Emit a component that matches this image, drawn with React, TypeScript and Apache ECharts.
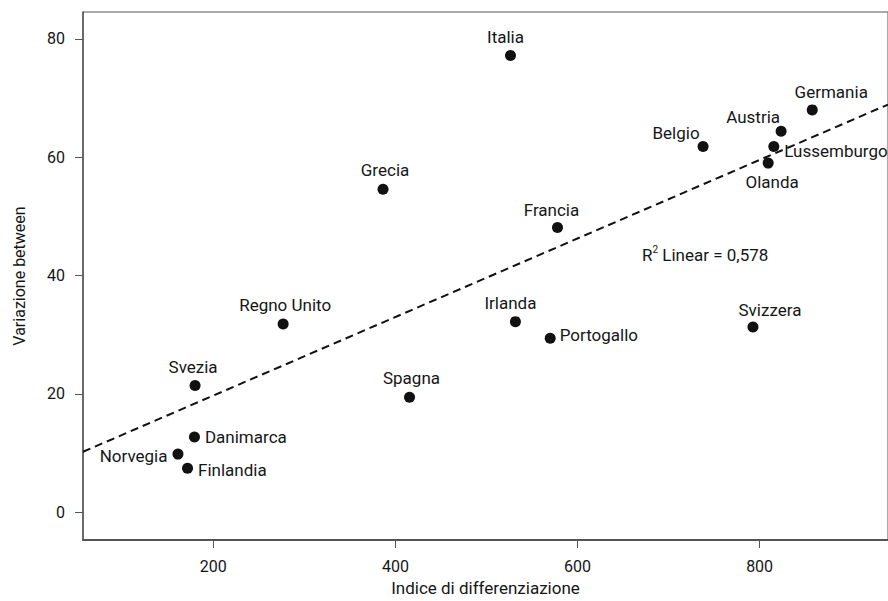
import React, { useEffect, useRef } from "react";
import * as echarts from "echarts";

const countries = [
  "Italia", "Grecia", "Francia", "Germania", "Austria", "Belgio", "Lussemburgo", "Olanda",
  "Regno Unito", "Svezia", "Danimarca", "Norvegia", "Finlandia", "Irlanda", "Portogallo", "Spagna", "Svizzera",
];
const indice = [526.4, 386.4, 578, 857.8, 823.6, 737.9, 815.6, 809.4, 276.7, 180, 179.3, 161.2, 171.7, 531.8, 570, 415.5, 792.7];
const variazione = [77.2, 54.6, 48.1, 68.0, 64.4, 61.8, 61.8, 59.0, 31.8, 21.4, 12.7, 9.8, 7.4, 32.2, 29.4, 19.4, 31.3];

const xTicks = [200, 400, 600, 800];
const yTicks = [0, 20, 40, 60, 80];
const xRange = [56.9, 941];
const yRange = [-4.72, 84.55];

// fit line
const fitIntercept = 6.42;
const fitSlope = 0.0664;
const r2Text = "0,578";

const labelPlacement: Record<string, { position: string; offset: number[] }> = {
  Italia: { position: "top", offset: [-5, 1] },
  Grecia: { position: "top", offset: [2, 0] },
  Francia: { position: "top", offset: [-6, 1] },
  Germania: { position: "top", offset: [19, 1] },
  Austria: { position: "top", offset: [-28, 5] },
  Belgio: { position: "top", offset: [-27, 5] },
  Lussemburgo: { position: "right", offset: [0, 4] },
  Olanda: { position: "bottom", offset: [4, 0] },
  "Regno Unito": { position: "top", offset: [2, 0] },
  Svezia: { position: "top", offset: [-2, 0] },
  Danimarca: { position: "right", offset: [0, 0] },
  Norvegia: { position: "left", offset: [0, 2] },
  Finlandia: { position: "right", offset: [0, 2] },
  Irlanda: { position: "top", offset: [-5, 0] },
  Portogallo: { position: "right", offset: [-1, -3] },
  Spagna: { position: "top", offset: [2, 0] },
  Svizzera: { position: "top", offset: [17, 2] },
};

const FONT = "Roboto";
const TEXT = "#161616";
const AXIS = "#555555";

export default function App() {
  const ref = useRef<HTMLDivElement>(null);
  useEffect(() => {
    if (!ref.current) return;
    const chart = echarts.init(ref.current, undefined, { renderer: "svg" });
    const points = countries.map((name, i) => {
      const p = labelPlacement[name];
      return {
        name,
        value: [indice[i], variazione[i]],
        label: { position: p.position, offset: p.offset },
      };
    });
    const fitData = [
      [xRange[0], fitIntercept + fitSlope * xRange[0]],
      [xRange[1], fitIntercept + fitSlope * xRange[1]],
    ];
    chart.setOption({
      animation: false,
      backgroundColor: "#ffffff",
      grid: {
        left: 83,
        top: 12,
        right: -6,
        bottom: 55,
        show: true,
        borderColor: AXIS,
        borderWidth: 1,
      },
      textStyle: { fontFamily: FONT },
      xAxis: {
        type: "value",
        min: xRange[0],
        max: xRange[1],
        name: "Indice di differenziazione",
        nameLocation: "middle",
        nameGap: 39,
        nameTextStyle: { fontFamily: FONT, fontSize: 17, color: TEXT },
        splitLine: { show: false },
        axisLine: { show: true, onZero: false, lineStyle: { color: AXIS, width: 2 } },
        axisTick: { show: true, length: 8, customValues: xTicks, lineStyle: { color: AXIS, width: 1 } },
        axisLabel: { customValues: xTicks, margin: 18, fontFamily: FONT, fontSize: 16, color: TEXT },
      },
      yAxis: {
        type: "value",
        min: yRange[0],
        max: yRange[1],
        name: "Variazione between",
        nameLocation: "middle",
        nameGap: 56,
        nameTextStyle: { fontFamily: FONT, fontSize: 16, color: TEXT },
        splitLine: { show: false },
        axisLine: { show: true, onZero: false, lineStyle: { color: AXIS, width: 1.5 } },
        axisTick: { show: true, length: 8, customValues: yTicks, lineStyle: { color: AXIS, width: 1 } },
        axisLabel: { customValues: yTicks, margin: 18, fontFamily: FONT, fontSize: 16, color: TEXT },
      },
      series: [
        {
          type: "line",
          data: fitData,
          symbol: "none",
          silent: true,
          lineStyle: { color: "#111111", width: 2, type: [8, 5] },
          z: 2,
        },
        {
          type: "scatter",
          data: points,
          symbolSize: 11,
          itemStyle: { color: "#111111", opacity: 1 },
          label: {
            show: true,
            formatter: "{b}",
            distance: 5,
            fontFamily: FONT,
            fontSize: 17,
            color: TEXT,
          },
          z: 3,
        },
      ],
      graphic: [
        {
          type: "text",
          left: 642,
          top: 244,
          style: {
            text: "{r|R}{s|2}{r| Linear = " + r2Text + "}",
            rich: {
              r: { fontFamily: FONT, fontSize: 17, lineHeight: 19, fill: TEXT, verticalAlign: "bottom" },
              s: { fontFamily: FONT, fontSize: 10, lineHeight: 12, fill: TEXT, verticalAlign: "top" },
            },
          },
        },
      ],
    });
    return () => chart.dispose();
  }, []);
  return (
    <div
      ref={ref}
      style={{ position: "fixed", left: 0, top: 0, width: 888, height: 601, background: "#fff" }}
    />
  );
}
